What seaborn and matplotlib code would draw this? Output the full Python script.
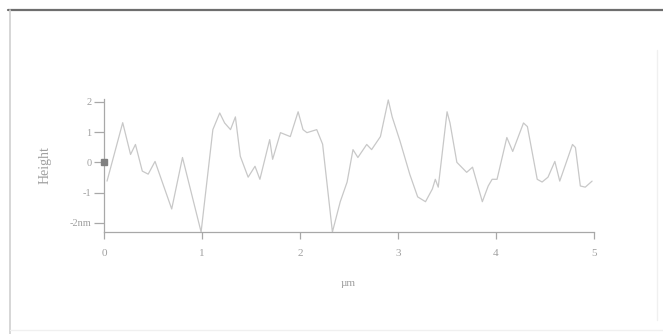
"""
表面轮廓线图（AFM 高度剖面）
横坐标：位置 (µm)，纵坐标：高度 (nm)
"""

import matplotlib
matplotlib.use("Agg")
import matplotlib.pyplot as plt
import seaborn as sns
import pandas as pd
from matplotlib.lines import Line2D

# 轮廓数据
x_um = [0.03, 0.19, 0.27, 0.32, 0.39, 0.45, 0.52, 0.69, 0.80, 0.99,
        1.11, 1.18, 1.23, 1.29, 1.34, 1.39, 1.47, 1.54, 1.59, 1.69,
        1.72, 1.80, 1.90, 1.98, 2.03, 2.07, 2.17, 2.23, 2.33, 2.41,
        2.48, 2.54, 2.59, 2.68, 2.73, 2.82, 2.90, 2.94, 3.02, 3.12,
        3.20, 3.28, 3.35, 3.38, 3.41, 3.50, 3.53, 3.60, 3.70, 3.76,
        3.86, 3.92, 3.96, 4.01, 4.11, 4.17, 4.28, 4.32, 4.42, 4.47,
        4.53, 4.60, 4.65, 4.78, 4.81, 4.86, 4.91, 4.98]
height_nm = [-0.62, 1.31, 0.26, 0.59, -0.29, -0.39, 0.03, -1.54, 0.16, -2.30,
             1.08, 1.63, 1.30, 1.08, 1.50, 0.20, -0.49, -0.13, -0.56, 0.75,
             0.10, 0.98, 0.85, 1.67, 1.08, 0.98, 1.08, 0.60, -2.30, -1.30,
             -0.65, 0.42, 0.16, 0.59, 0.42, 0.85, 2.06, 1.50, 0.70, -0.40,
             -1.14, -1.30, -0.88, -0.56, -0.82, 1.67, 1.30, 0.00, -0.33, -0.16,
             -1.30, -0.78, -0.56, -0.56, 0.82, 0.36, 1.30, 1.18, -0.56, -0.65,
             -0.49, 0.03, -0.62, 0.59, 0.49, -0.78, -0.82, -0.62]

x_ticks = [0, 1, 2, 3, 4, 5]
y_ticks = [2, 1, 0, -1, -2]
y_tick_labels = ["2", "1", "0", "-1", "-2nm"]

sns.set_style("ticks")
plt.rcParams['font.family'] = ['Liberation Serif', 'DejaVu Sans']

AXIS_GREY = '#a8a8a8'
TEXT_GREY = '#a0a0a0'

df = pd.DataFrame({'x': x_um, 'h': height_nm})

fig = plt.figure(figsize=(6.63, 3.34), dpi=100)
ax = fig.add_axes([0.157, 0.3054, 0.739, 0.399])

sns.lineplot(data=df, x='x', y='h', ax=ax, estimator=None,
             color='#c8c8c8', linewidth=0.9)

# 零点处的小方块标记
ax.plot([0], [0], marker='s', markersize=5, color='#808080',
        linestyle='none', clip_on=False, zorder=5)

ax.set_xlim(0, 5)
ax.set_ylim(-2.3, 2.1)
ax.set_xticks(x_ticks)
ax.set_xticklabels([str(t) for t in x_ticks])
ax.set_yticks(y_ticks)
ax.set_yticklabels(y_tick_labels)

for side in ['top', 'right']:
    ax.spines[side].set_visible(False)
for side in ['left', 'bottom']:
    ax.spines[side].set_color(AXIS_GREY)
    ax.spines[side].set_linewidth(0.9)

ax.tick_params(axis='x', direction='out', length=5, width=0.9,
               color=AXIS_GREY, labelcolor=TEXT_GREY, labelsize=8, pad=7)
ax.tick_params(axis='y', direction='out', length=7, width=0.9,
               color=AXIS_GREY, labelcolor=TEXT_GREY, labelsize=7.5, pad=2)

ax.set_xlabel('µm', color=TEXT_GREY, fontsize=8)
ax.set_ylabel('Height', color=TEXT_GREY, fontsize=10)
ax.xaxis.set_label_coords(0.498, -0.35)
ax.yaxis.set_label_coords(-0.108, 0.5)

# 外框线
fig.add_artist(Line2D([8 / 663, 1.0], [1 - 10 / 334, 1 - 10 / 334],
                      color='#6e6e6e', linewidth=1.6))
fig.add_artist(Line2D([10 / 663, 10 / 663], [1 - 10 / 334, 0.0],
                      color='#cfcfcf', linewidth=1.2))
fig.add_artist(Line2D([657 / 663, 657 / 663], [1 - 50 / 334, 1 - 320 / 334],
                      color='#f0f0f0', linewidth=1.0))
fig.add_artist(Line2D([10 / 663, 1.0], [1 - 330 / 334, 1 - 330 / 334],
                      color='#f0f0f0', linewidth=1.0))

fig.savefig('out.png', dpi=100)
plt.close(fig)
